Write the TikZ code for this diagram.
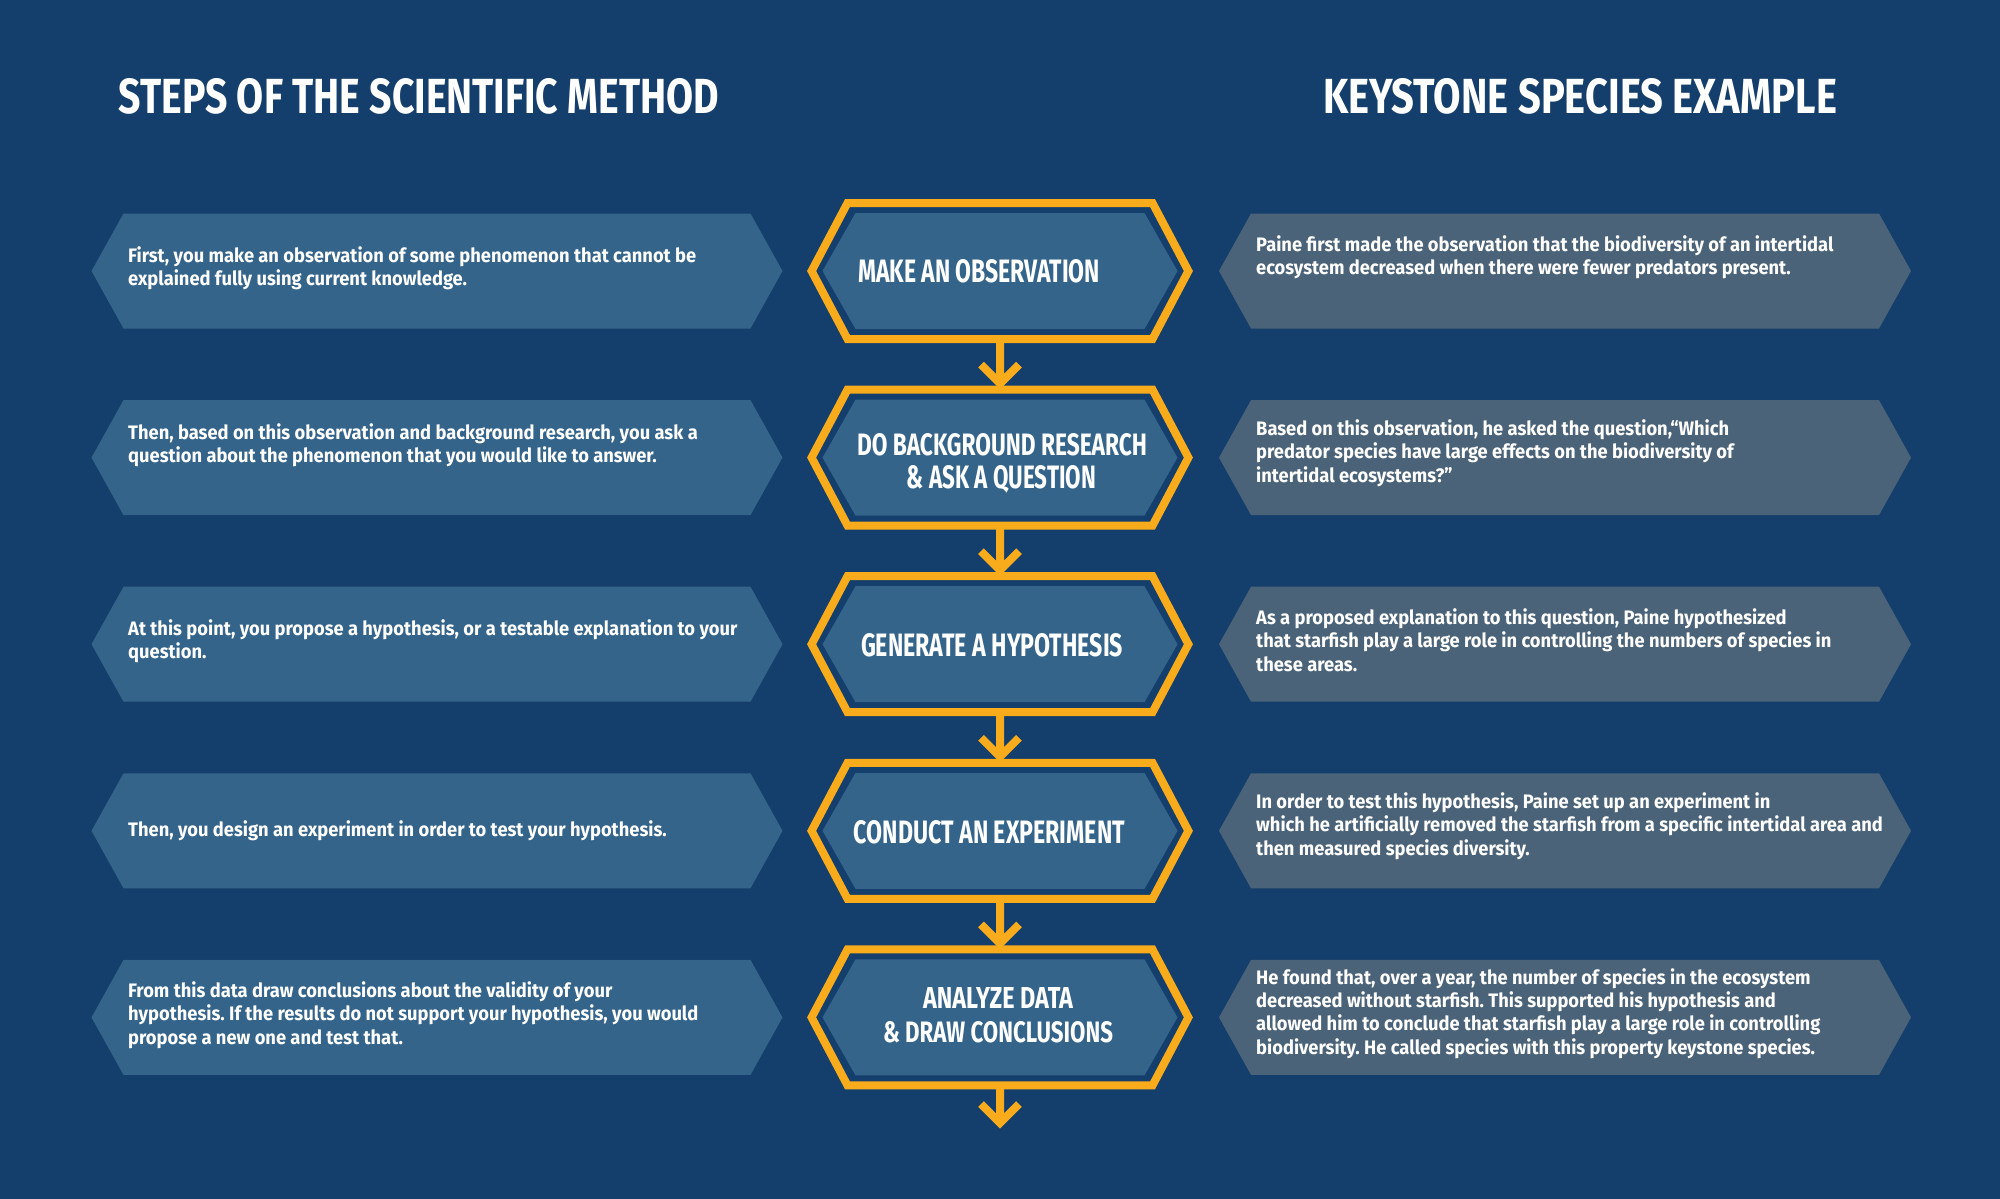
\documentclass[tikz,border=0pt]{standalone}
\usepackage{graphicx}
\usepackage{fontspec}
\setmainfont{Fira Sans}
\newfontfamily\bodyfont[FakeStretch=0.94]{Fira Sans}
\newfontfamily\headfont{Fira Sans}
\usetikzlibrary{calc}
\frenchspacing
\definecolor{bgnavy}{HTML}{143E6B}
\definecolor{leftbox}{HTML}{34648A}
\definecolor{rightbox}{HTML}{4B6378}
\definecolor{hexgold}{HTML}{F8AC1C}
\newcommand\fitlabel[3]{\resizebox{#1pt}{#2pt}{\headfont\bfseries #3}}
\newcommand\hexshape[3]{%
  \path[#3] (#1.west) -- ([xshift=#2pt]#1.north west) -- ([xshift=-#2pt]#1.north east)
    -- (#1.east) -- ([xshift=-#2pt]#1.south east) -- ([xshift=#2pt]#1.south west) -- cycle;}
\tikzset{
  holder/.style={rectangle, inner sep=0pt, outer sep=0pt, draw=none},
  leftpanel/.style={holder, minimum width=691pt, minimum height=115pt},
  rightpanel/.style={holder, minimum width=692pt, minimum height=115pt},
  hexouter/.style={holder, minimum width=376.8pt, minimum height=136pt},
  hexinner/.style={holder, minimum width=355pt, minimum height=116pt},
  body/.style={font={\bodyfont\bfseries\fontsize{19.5pt}{23.3pt}\selectfont\frenchspacing}, text=white,
    align=left, inner sep=0pt, anchor=west},
  label/.style={text=white, inner sep=0pt, anchor=base},
  conn/.style={draw=hexgold, line width=8pt, line join=miter, line cap=butt}
}
\begin{document}
\begin{tikzpicture}[x=1pt, y=-1pt]
\path[fill=bgnavy] (0,0) rectangle (2000,1199);
\useasboundingbox (0,0) rectangle (2000,1199);

% placeholders
\foreach \i/\y in {1/271, 2/457.6, 3/644.2, 4/830.8, 5/1017.4}{
  \node[leftpanel] (lb\i) at (437,\y) {};
  \node[rightpanel] (rb\i) at (1565,\y) {};
  \node[hexouter] (ho\i) at (1000,\y) {};
  \node[hexinner] (hi\i) at (1000,\y) {};
}
\foreach \i in {1,...,5}{
  \hexshape{lb\i}{32}{fill=leftbox}
  \hexshape{rb\i}{32}{fill=rightbox}
  \hexshape{ho\i}{35.9}{draw=hexgold, line width=8pt, line join=miter}
  \hexshape{hi\i}{33}{fill=leftbox}
}

% connectors
\foreach \a/\b in {1/2, 2/3, 3/4, 4/5}{
  \draw[conn] (ho\a.south) -- ($(ho\b.north)+(0,-6)$)
    ($(ho\b.north)+(-19,-25)$) -- ($(ho\b.north)+(0,-6)$) -- ($(ho\b.north)+(19,-25)$);
}
\coordinate (tail) at (1000,1123);
\draw[conn] (ho5.south) -- (tail) ($(tail)+(-19,-19)$) -- (tail) -- ($(tail)+(19,-19)$);

% headings
\node[label] (h1) at (419,113.5) {\fitlabel{600}{35}{STEPS OF THE SCIENTIFIC METHOD}};
\node[label] (h2) at (1580,113.5) {\fitlabel{514}{35}{KEYSTONE SPECIES EXAMPLE}};

% hexagon labels
\node[label] (hl1) at (979,282) {\fitlabel{242}{23}{MAKE AN OBSERVATION}};
\node[label] (hl2a) at (1002,455) {\fitlabel{290}{22}{DO BACKGROUND RESEARCH}};
\node[label] (hl2b) at (1001.5,488) {\fitlabel{189}{23}{\& ASK A QUESTION}};
\node[label] (hl3) at (992,656) {\fitlabel{262}{23}{GENERATE A HYPOTHESIS}};
\node[label] (hl4) at (989.5,843) {\fitlabel{271}{23}{CONDUCT AN EXPERIMENT}};
\node[label] (hl5a) at (998,1008) {\fitlabel{150}{21}{ANALYZE DATA}};
\node[label] (hl5b) at (998,1042) {\fitlabel{230}{21}{\& DRAW CONCLUSIONS}};

% left texts
\node[body] (lt1) at (128,268.5) {First, you make an observation of some phenomenon that cannot be\\explained fully using current knowledge.};
\node[body] (lt2) at (128,445) {Then, based on this observation and background research, you ask a\\question about the phenomenon that you would like to answer.};
\node[body] (lt3) at (128,641.5) {At this point, you propose a hypothesis, or a testable explanation to your\\question.};
\node[body] (lt4) at (128,831) {Then, you design an experiment in order to test your hypothesis.};
\node[body] (lt5) at (128,1015) {From this data draw conclusions about the validity of your\\hypothesis. If the results do not support your hypothesis, you would\\propose a new one and test that.};

% right texts
\node[body] (rt1) at (1256,257.5) {Paine first made the observation that the biodiversity of an intertidal\\ecosystem decreased when there were fewer predators present.};
\node[body] (rt2) at (1256,453) {Based on this observation, he asked the question,“Which\\predator species have large effects on the biodiversity of\\intertidal ecosystems?”};
\node[body] (rt3) at (1256,640) {As a proposed explanation to this question, Paine hypothesized\\that starfish play a large role in controlling the numbers of species in\\these areas.};
\node[body] (rt4) at (1256,826) {In order to test this hypothesis, Paine set up an experiment in\\which he artificially removed the starfish from a specific intertidal area and\\then measured species diversity.};
\node[body] (rt5) at (1256,1013.5) {He found that, over a year, the number of species in the ecosystem\\decreased without starfish. This supported his hypothesis and\\allowed him to conclude that starfish play a large role in controlling\\biodiversity. He called species with this property keystone species.};
\end{tikzpicture}
\end{document}
